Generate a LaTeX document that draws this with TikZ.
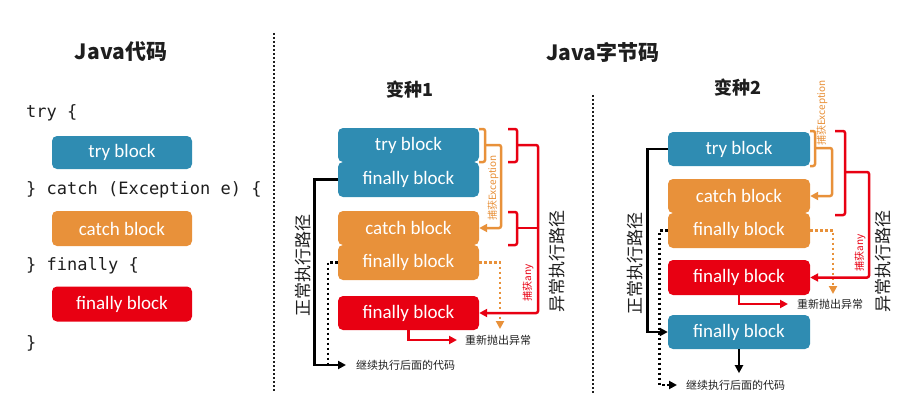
\documentclass[tikz,border=0pt]{standalone}
\usepackage{fontspec}
\setmainfont{Carlito}
\setmonofont{DejaVu Sans Mono}
\newfontfamily\cjk{Noto Sans CJK SC}
\usepackage{tikz}
\usetikzlibrary{arrows.meta, positioning, calc}
\definecolor{jblue}{RGB}{47,140,178}
\definecolor{jorange}{RGB}{232,145,58}
\definecolor{jred}{RGB}{232,0,18}
\definecolor{jtext}{RGB}{30,30,30}

\tikzset{
  blk/.style={rounded corners=5pt, minimum width=141pt, minimum height=34pt, inner sep=0pt,
    text=white, font=\fontsize{19}{19}\selectfont},
  tryblk/.style={blk, fill=jblue},
  catchblk/.style={blk, fill=jorange},
  finblk/.style={blk, fill=jred},
  code/.style={anchor=west, inner sep=0pt, font=\ttfamily\fontsize{17}{17}\selectfont, text=jtext},
  title/.style={font=\cjk\bfseries\fontsize{21}{21}\selectfont, text=jtext},
  subtitle/.style={font=\cjk\bfseries\fontsize{18}{18}\selectfont, text=jtext},
  pathlbl/.style={rotate=90, font=\cjk\fontsize{17}{17}\selectfont, text=jtext},
  smalllbl/.style={anchor=west, inner sep=0pt, inner xsep=9pt, font=\cjk\fontsize{11}{11}\selectfont, text=jtext},
  catchlbl/.style={rotate=90, inner sep=1pt, font=\cjk\fontsize{10}{10}\selectfont},
  tip/.style={-{Triangle[length=8pt,width=8pt]}},
  normal/.style={draw=black, line width=2.8pt},
  normaldot/.style={draw=black, line width=2.8pt, dash pattern=on 2.5pt off 2.5pt},
  excline/.style={draw=jorange, line width=2.5pt, rounded corners=2pt},
  excdot/.style={draw=jorange, line width=2.5pt, dash pattern=on 2.5pt off 2.5pt},
  anyline/.style={draw=jred, line width=2.5pt, rounded corners=2pt},
  sep/.style={draw=jtext, line width=2.5pt, dash pattern=on 2pt off 2pt}
}

\begin{document}
\begin{tikzpicture}[x=1pt, y=-1pt]
  \useasboundingbox (0,0) rectangle (911,412);
  % Java source
  \node[title] (srctitle) at (121,52) {Java代码};
  \node[code] (ctry) at (26,113) {try \{};
  \node[tryblk, minimum width=140pt, minimum height=33pt] (stry) at (122,152.5) {try block};
  \node[code] (ccatch) at (26,190) {\} catch (Exception e) \{};
  \node[catchblk, minimum width=140pt, minimum height=35pt] (scatch) at (122,228.5) {catch block};
  \node[code] (cfin) at (26,266) {\} finally \{};
  \node[finblk, minimum width=140pt, minimum height=35pt] (sfin) at (122,304) {finally block};
  \node[code] (cend) at (26,343) {\}};
  \draw[sep] (274,33) -- (274,392);

  % bytecode
  \node[title] (bctitle) at (603,52) {Java字节码};
  \draw[sep] (593,95) -- (593,393);

  % Variant 1
  \node[subtitle] (v1title) at (410,90) {变种1};
  \node[tryblk] (v1try) at (408.5,145) {try block};
  \node[tryblk, minimum height=35pt] (v1fin1) at (408.5,179.5) {finally block};
  \node[catchblk] (v1catch) at (408.5,228) {catch block};
  \node[catchblk, minimum height=35pt] (v1fin2) at (408.5,262.5) {finally block};
  \node[finblk] (v1fin3) at (408.5,313) {finally block};
  \node[smalllbl, inner xsep=10pt] (v1cont) at (346,365) {继续执行后面的代码};
  \node[smalllbl, inner xsep=8pt] (v1re) at (457,340) {重新抛出异常};
  \node[pathlbl] (v1norm) at (303,265) {正常执行路径};
  \node[pathlbl] (v1exc) at (557,261) {异常执行路径};
  \node[catchlbl, text=jorange] (v1ce) at (493,188) {捕获Exception};
  \node[catchlbl, text=jred] (v1ca) at (528,283) {捕获any};
  % normal path
  \draw[normal, tip] (v1fin1.west) -- ++(-23,0) |- (v1cont.west);
  \coordinate (v1j) at (328,365);
  \draw[normaldot] (v1fin2.west) -| (v1j);
  % exception path
  \draw[excline] (479,129) -- (485,129) -- (485,162) -- (479,162);
  \draw[excline, tip] (485,145) -- (501,145) |- (v1catch.east);
  \draw[excdot, tip] (v1fin2.east) -| (500,329);
  \draw[anyline] (508,129) -- (517,129) -- (517,162) -- (508,162);
  \draw[anyline] (508,212) -- (517,212) -- (517,245) -- (508,245);
  \draw[anyline] (517,228) -- (538,228);
  \draw[anyline, tip] (517,145) -- (538,145) |- (v1fin3.east);
  \draw[anyline, tip, rounded corners=0pt] (v1fin3.south) |- (v1re.west);

  % Variant 2
  \node[subtitle] (v2title) at (738,88) {变种2};
  \node[tryblk, minimum width=142pt] (v2try) at (739,149) {try block};
  \node[catchblk, minimum width=142pt] (v2catch) at (739,196) {catch block};
  \node[catchblk, minimum width=142pt, minimum height=35pt] (v2fin1) at (739,230.5) {finally block};
  \node[finblk, minimum width=142pt, minimum height=35pt] (v2fin2) at (739,277.5) {finally block};
  \node[tryblk, minimum width=142pt] (v2fin3) at (739,332) {finally block};
  \node[smalllbl] (v2cont) at (677,385) {继续执行后面的代码};
  \node[smalllbl] (v2re) at (788,304) {重新抛出异常};
  \node[pathlbl] (v2norm) at (635,263) {正常执行路径};
  \node[pathlbl] (v2exc) at (883,261) {异常执行路径};
  \node[catchlbl, text=jorange] (v2ce) at (822,113) {捕获Exception};
  \node[catchlbl, text=jred] (v2ca) at (860,253) {捕获any};
  % normal path
  \draw[normal, tip] (v2try.west) -- ++(-20,0) |- (v2fin3.west);
  \draw[normal, tip] (v2fin3.south) -- ++(0,24);
  \draw[normaldot, tip] (v2fin1.west) -- ++(-8,0) |- (v2cont.west);
  % exception path
  \draw[excline] (810,131) -- (815,131) -- (815,166) -- (810,166);
  \draw[excline, tip] (815,148) -- (832,148) |- (v2catch.east);
  \draw[excdot, tip] (v2fin1.east) -| (833,294);
  \draw[anyline] (835,131) -- (845,131) -- (845,215) -- (835,215);
  \draw[anyline, tip] (845,172) -- (869,172) |- (v2fin2.east);
  \draw[anyline, tip, rounded corners=0pt] (v2fin2.south) |- (v2re.west);
\end{tikzpicture}
\end{document}
